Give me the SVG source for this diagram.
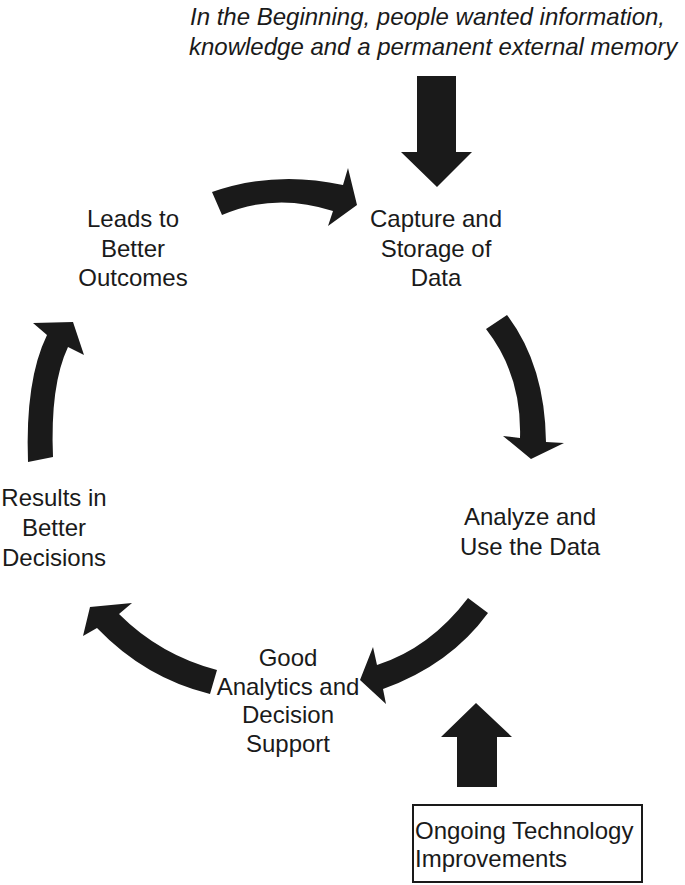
<svg xmlns="http://www.w3.org/2000/svg" width="685" height="885" viewBox="0 0 685 885">
<style>
text{font-family:"Liberation Sans",Arial,sans-serif;font-size:24px;fill:#1a1a1a}
.c{text-anchor:middle}
.it{font-style:italic}
.arrow{fill:#1a1a1a;stroke:none}
.box{fill:#fff;stroke:#1a1a1a;stroke-width:2}
</style>
<rect width="685" height="885" fill="#fff"/>
<g id="intro">
<text class="it" x="190" y="25">In the Beginning, people wanted information,</text>
<text class="it" x="189" y="55">knowledge and a permanent external memory</text>
</g>
<g id="capture">
<text class="c" x="436" y="227">Capture and</text>
<text class="c" x="436" y="257">Storage of</text>
<text class="c" x="436" y="286">Data</text>
</g>
<g id="analyze">
<text class="c" x="530" y="525">Analyze and</text>
<text class="c" x="530" y="555">Use the Data</text>
</g>
<g id="analytics">
<text class="c" x="288" y="666">Good</text>
<text class="c" x="288" y="695">Analytics and</text>
<text class="c" x="288" y="723">Decision</text>
<text class="c" x="288" y="752">Support</text>
</g>
<g id="decisions">
<text class="c" x="54" y="506">Results in</text>
<text class="c" x="54" y="536">Better</text>
<text class="c" x="54" y="566">Decisions</text>
</g>
<g id="outcomes">
<text class="c" x="133" y="227">Leads to</text>
<text class="c" x="133" y="257">Better</text>
<text class="c" x="133" y="286">Outcomes</text>
</g>
<g id="technology">
<rect class="box" x="413" y="805" width="229" height="77"/>
<text x="415" y="839">Ongoing Technology</text>
<text x="415" y="867">Improvements</text>
</g>
<g id="connectors">
<polygon class="arrow" points="417,76 456,76 456,152 472,152 437,187 401,152 417,152"/>
<polygon class="arrow" points="457,787 497,787 497,737 512,737 476,703 441,737 457,737"/>
<path class="arrow" d="M212,192 Q275,170 343,185 L348,168 L357,205 L328,226 L333,211 Q275,192 222,215 Z"/>
<path class="arrow" d="M507,315 Q545,365 546,442 L564,443 L531,459 L503,436 L520,438 Q522,375 486,329 Z"/>
<path class="arrow" d="M468,598 Q430,648 377,665 L373,647 L360,680 L386,704 L383,689 Q450,665 488,613 Z"/>
<path class="arrow" d="M90,607 L132,603 L119,614 Q160,655 217,670 L210,694 Q145,678 97,628 L83,636 Z"/>
<path class="arrow" d="M33,323 L73,322 L84,355 L68,347 Q50,385 53,457 L28,462 Q25,380 47,335 Z"/>
</g>
</svg>
